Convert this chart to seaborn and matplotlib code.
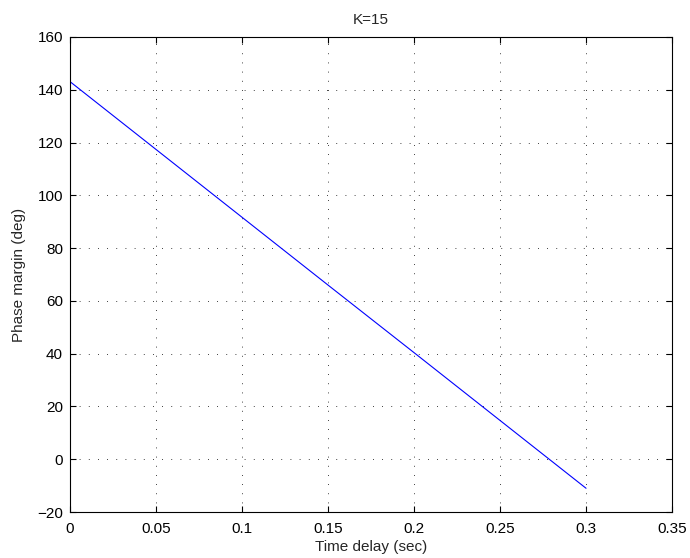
import matplotlib
matplotlib.use("Agg")
import matplotlib.pyplot as plt
import seaborn as sns
import pandas as pd

time_delay = [0.0, 0.05, 0.10, 0.15, 0.20, 0.25, 0.30]
phase_margin = [143.1, 117.4, 91.7, 66.0, 40.4, 14.7, -11.0]
x_ticks = [0, 0.05, 0.1, 0.15, 0.2, 0.25, 0.3, 0.35]
x_tick_labels = ["0", "0.05", "0.1", "0.15", "0.2", "0.25", "0.3", "0.35"]
y_ticks = [-20, 0, 20, 40, 60, 80, 100, 120, 140, 160]

sns.set_style("white")
plt.rcParams['font.family'] = ['Liberation Sans', 'DejaVu Sans']

df = pd.DataFrame({"t": time_delay, "pm": phase_margin})

fig = plt.figure(figsize=(6.9, 5.58), dpi=100)
ax = fig.add_axes([0.1014, 0.0824, 0.8726, 0.8513])
sns.lineplot(data=df, x="t", y="pm", ax=ax, color="#0000ff", linewidth=0.8)

ax.set_xlim(0, 0.35)
ax.set_ylim(-20, 160)
ax.set_xticks(x_ticks)
ax.set_xticklabels(x_tick_labels)
ax.set_yticks(y_ticks)
ax.grid(True, linestyle=(0, (1, 10)), color="black", linewidth=0.6)
ax.tick_params(axis="x", pad=7)
ax.tick_params(direction="in", length=4, width=0.8, labelsize=11, colors="black",
               top=True, right=True, bottom=True, left=True)
ax.tick_params(axis="y", pad=5)
for s in ax.spines.values():
    s.set_visible(True)
    s.set_color("black")
    s.set_linewidth(0.8)
ax.set_xlabel("Time delay (sec)", fontsize=11, labelpad=3)
ax.set_ylabel("Phase margin (deg)", fontsize=11, labelpad=8)
ax.set_title("K=15", fontsize=11, pad=9)

fig.savefig("out.png", dpi=100)
